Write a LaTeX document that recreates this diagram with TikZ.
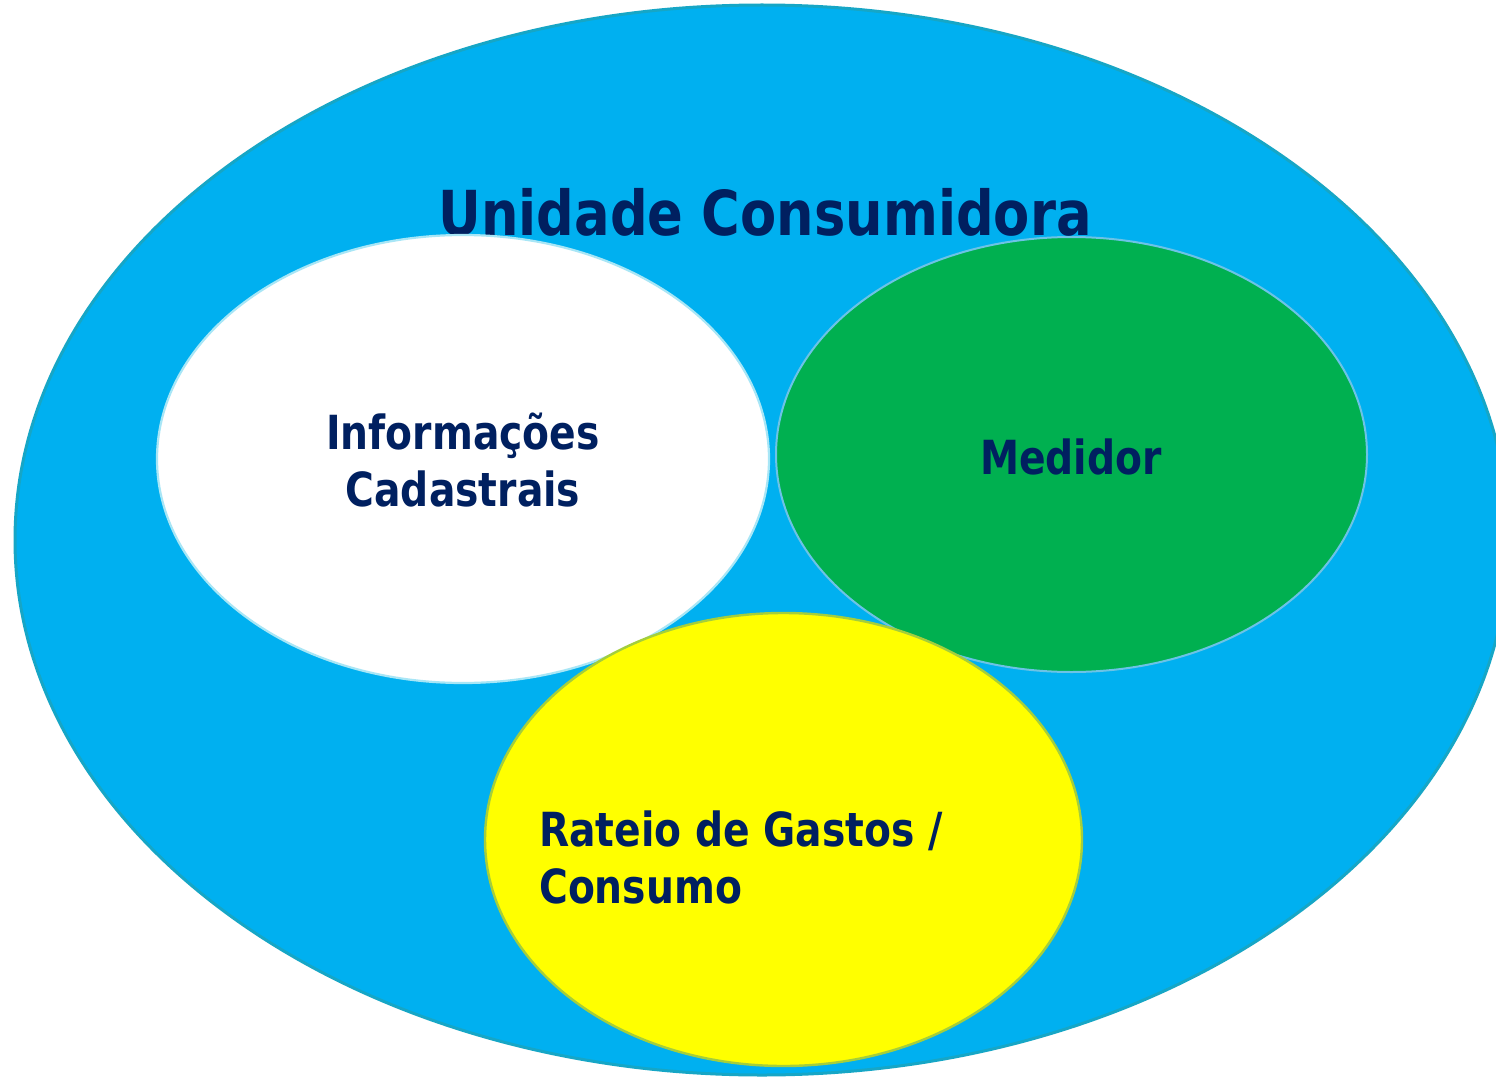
\documentclass[tikz,border=0pt]{standalone}
\usepackage{fontspec}
\setmainfont{DejaVu Sans}[FakeStretch=0.85]
\newfontfamily\lblfont{DejaVu Sans}[FakeStretch=0.835]
\definecolor{navy}{HTML}{002060}
\definecolor{skyfill}{HTML}{00B0F0}
\definecolor{skyline}{HTML}{16A6C6}
\definecolor{whiteline}{HTML}{A8E6F6}
\definecolor{greenfill}{HTML}{00B050}
\definecolor{greenline}{HTML}{6CC3E6}
\definecolor{yellowfill}{HTML}{FFFF00}
\definecolor{yellowline}{HTML}{A4CE3C}
\tikzset{
  lbl/.style={text=navy, inner sep=0pt, font=\lblfont\bfseries\fontsize{47}{57}\selectfont},
  ttl/.style={text=navy, inner sep=0pt, font=\bfseries\fontsize{62}{70}\selectfont},
}
\begin{document}
\begin{tikzpicture}[x=1pt,y=-1pt]
\useasboundingbox (0,0) rectangle (1496,1078);
\clip (0,0) rectangle (1496,1078);
\fill[white] (0,0) rectangle (1496,1078);
\draw[skyline, line width=3pt, fill=skyfill] (762,540) ellipse [x radius=747, y radius=535];
\node[ttl, anchor=base] (title) at (765,236) {Unidade Consumidora};
\draw[whiteline, line width=2.2pt, fill=white] (463,459) ellipse [x radius=306, y radius=224];
\draw[greenline, line width=2pt, fill=greenfill] (1071.5,454.5) ellipse [x radius=295.5, y radius=217.5];
\draw[yellowline, line width=2.4pt, fill=yellowfill] (783.5,839.5) ellipse [x radius=298.5, y radius=226.5];
\node[lbl, anchor=base, align=center] (info) at (463,506) {Informações\\Cadastrais};
\node[lbl, anchor=base] (medidor) at (1071,474) {Medidor};
\node[lbl, anchor=base west, align=left] (rateio) at (539,903) {Rateio de Gastos /\\Consumo};
\end{tikzpicture}
\end{document}
